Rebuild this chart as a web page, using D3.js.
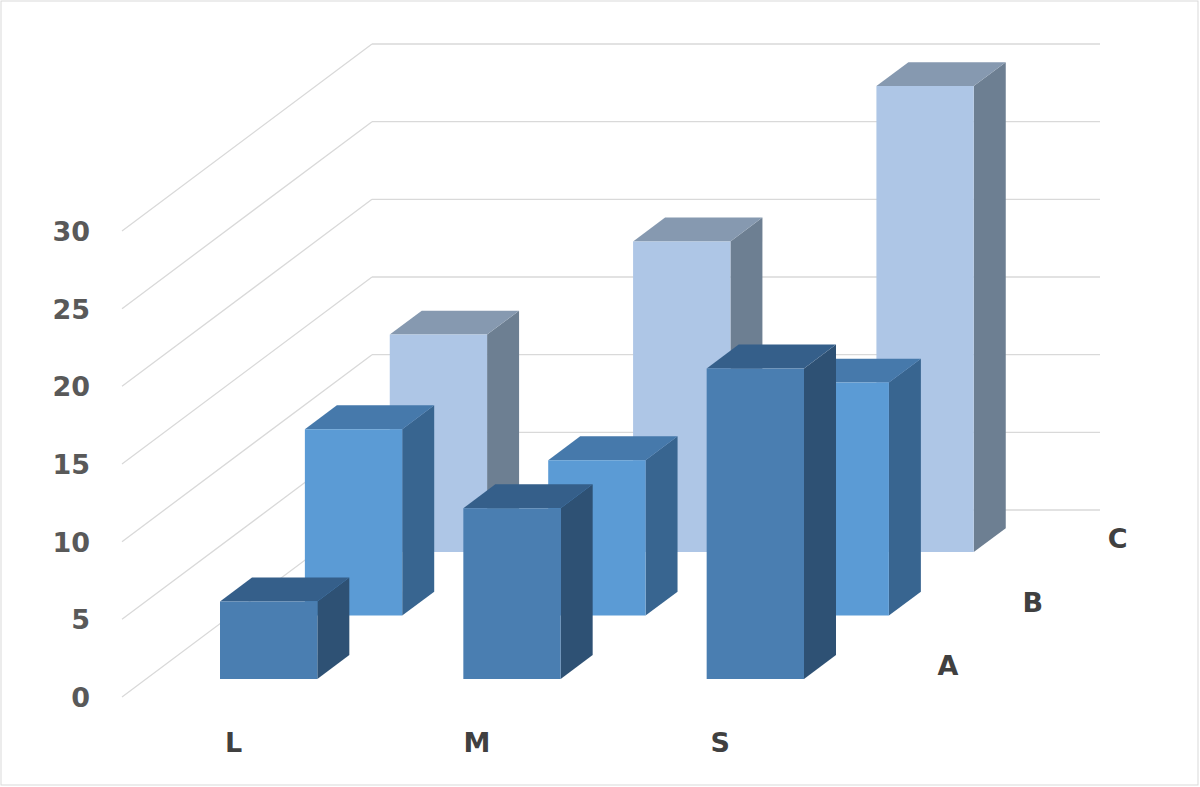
<!DOCTYPE html>
<html><head><meta charset="utf-8">
<script src="https://cdn.jsdelivr.net/npm/d3@7"></script>
<style>body{margin:0;background:#fff}</style></head>
<body><svg id="c" width="1200" height="787"></svg>
<script>
const categories=["L","M","S"];
const series=["A","B","C"];
const valuesA=[5,11,20];
const valuesB=[12,10,15];
const valuesC=[14,20,30];
const yTicks=[0,5,10,15,20,25,30];
const colors={A:["#4a7eb1","#2e5174","#355f8a"],B:["#5b9bd5","#386590","#4679ab"],C:["#aec6e6","#6d7f92","#8699b0"]};
const data={A:valuesA,B:valuesB,C:valuesC};

const svg=d3.select("#c");
svg.append("rect").attr("x",1).attr("y",1).attr("width",1197).attr("height",784).attr("fill","#fff").attr("stroke","#d9d9d9");
const y=d3.scaleLinear().domain([0,30]).range([697,231]);
const DX=250,DY=-187;
const depth=d3.scalePoint().domain(series).range([0.096,0.775]);
const x=d3.scaleBand().domain(categories).range([123,853]).paddingInner(0.6).paddingOuter(0.3);
const bd=0.128;
const P=(px,py,d)=>[px+DX*d,py+DY*d];
const g=svg.append("g");
yTicks.forEach(t=>{
  const a=[122,y(t)],b=P(122,y(t),1);
  g.append("line").attr("x1",a[0]).attr("y1",a[1]).attr("x2",b[0]).attr("y2",b[1]).attr("stroke","#d9d9d9").attr("stroke-width",1.3);
  g.append("line").attr("x1",b[0]).attr("y1",b[1]).attr("x2",1100).attr("y2",b[1]).attr("stroke","#d9d9d9").attr("stroke-width",1.3);
  svg.append("text").attr("x",90).attr("y",y(t)+10).attr("text-anchor","end").text(t)
    .attr("font-family","DejaVu Sans").attr("font-weight","bold").attr("font-size",27).attr("fill","#595959");
});
const poly=pts=>pts.map(p=>p.join(",")).join(" ");
series.slice().reverse().forEach(s=>{
  const d=depth(s);
  categories.forEach((c,i)=>{
    const v=data[s][i];
    const x0=x(c),x1=x0+x.bandwidth(),y0=y(0),y1=y(v);
    const f=[P(x0,y0,d),P(x1,y0,d),P(x1,y1,d),P(x0,y1,d)];
    const b2=[P(x0,y0,d+bd),P(x1,y0,d+bd),P(x1,y1,d+bd),P(x0,y1,d+bd)];
    g.append("polygon").attr("points",poly([f[1],b2[1],b2[2],f[2]])).attr("fill",colors[s][1]);
    g.append("polygon").attr("points",poly([f[3],f[2],b2[2],b2[3]])).attr("fill",colors[s][2]);
    g.append("polygon").attr("points",poly(f)).attr("fill",colors[s][0]);
  });
});
const lab=(t,px,py)=>svg.append("text").attr("x",px).attr("y",py).attr("text-anchor","middle").text(t)
  .attr("font-family","DejaVu Sans").attr("font-weight","bold").attr("font-size",27).attr("fill","#404040");
categories.forEach(c=>lab(c,x(c)+x.bandwidth()/2-11,752));
series.forEach(s=>{const d=depth(s);lab(s,948+(d-0.096)*DX,675+(d-0.096)*DY);});
</script></body></html>
